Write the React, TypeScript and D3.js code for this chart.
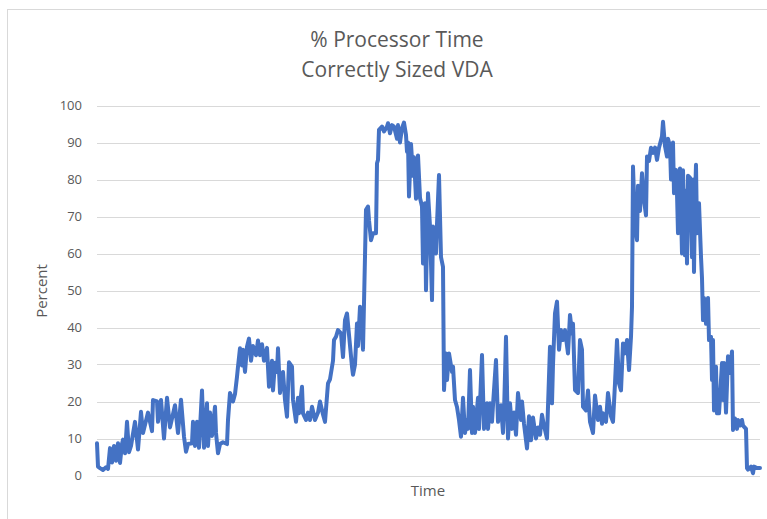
import * as d3 from "d3";
import { useEffect, useRef } from "react";

const width = 767;
const height = 519;
const margin = { top: 105.5, right: 7, bottom: 43.5, left: 97 };

const titleLines = ["% Processor Time", "Correctly Sized VDA"];
const yTicks = [0, 10, 20, 30, 40, 50, 60, 70, 80, 90, 100];

// sample time (minutes from start) and % processor time
const minutes = [
  0, 1, 3, 6, 9, 11, 13, 15, 17, 19, 21, 23, 25, 26, 28, 30, 32, 34, 38, 41,
  44, 46, 51, 55, 56, 60, 61, 64, 67, 70, 73, 78, 81, 84, 87, 89, 91, 95, 96, 98,
  100, 102, 105, 107, 110, 111, 113, 115, 118, 119, 121, 123, 126, 130, 131, 133, 136, 138, 140, 141,
  143, 145, 146, 148, 150, 152, 154, 156, 159, 161, 163, 165, 167, 170, 172, 175, 176, 178, 180, 181,
  183, 186, 188, 190, 192, 195, 196, 199, 201, 202, 205, 206, 209, 211, 213, 215, 218, 221, 223, 226,
  228, 231, 233, 236, 237, 239, 241, 244, 246, 248, 250, 252, 255, 256, 258, 260, 261, 263, 265, 266,
  269, 271, 272, 274, 276, 279, 280, 281, 282, 285, 287, 290, 291, 293, 295, 297, 300, 301, 303, 305,
  307, 309, 310, 311, 312, 314, 316, 317, 319, 321, 323, 325, 326, 328, 329, 331, 333, 335, 336, 339,
  340, 342, 344, 346, 347, 349, 350, 352, 355, 356, 358, 360, 362, 364, 366, 368, 370, 371, 373, 375,
  376, 378, 381, 382, 385, 387, 390, 391, 393, 395, 396, 399, 401, 404, 406, 407, 409, 411, 413, 415,
  417, 419, 421, 424, 425, 427, 430, 432, 434, 436, 439, 441, 443, 445, 447, 450, 451, 453, 455, 456,
  458, 460, 462, 464, 466, 468, 471, 473, 475, 476, 478, 481, 483, 485, 486, 489, 491, 493, 496, 498,
  501, 503, 505, 506, 509, 511, 514, 516, 518, 520, 522, 524, 526, 528, 530, 532, 534, 535, 536, 538,
  540, 541, 543, 545, 547, 549, 550, 552, 554, 556, 558, 560, 562, 565, 566, 568, 570, 571, 573, 574,
  576, 577, 579, 580, 581, 583, 585, 586, 588, 589, 590, 591, 593, 595, 596, 597, 598, 599, 600, 602,
  604, 605, 606, 607, 609, 611, 612, 614, 615, 616, 617, 619, 620, 622, 625, 626, 627, 629, 631, 633,
  635, 636, 638, 640, 641, 643, 645, 646, 649, 650, 651, 654, 656, 657, 660, 663,
];

const percent = [
  8.7, 2.4, 2, 1.5, 2.2, 1.8, 7.4, 3.5, 8, 4, 8.7, 3.4, 8.5, 9.7, 6, 14.5, 6.3, 8, 14.5, 7,
  17.2, 11.5, 17, 12, 20.4, 20, 14.5, 20.4, 10, 21, 13, 19, 11.5, 20.5, 10.5, 6.4, 8.5, 8.7, 14.5, 8,
  14.5, 7.5, 23, 7.5, 19.5, 8, 17, 10.7, 18.6, 11.5, 6, 8.5, 9, 8.5, 15, 22.3, 20, 22, 26.7, 29.4,
  34.4, 29.7, 34, 28, 34.8, 37, 31, 35, 32.5, 36.5, 32.5, 35.5, 31, 34.5, 24, 31, 23, 30.5, 28, 34.4,
  22.3, 28, 20.4, 15.9, 30.6, 29.4, 20.5, 14.5, 21, 16.8, 24, 16.8, 15, 17, 15, 18.6, 15, 17, 20, 16.5,
  14.5, 24.9, 26, 31, 36.6, 37.5, 39.3, 38.4, 32, 42, 43.8, 38, 29.4, 27.2, 30, 41.1, 35, 45.6, 38.5, 34,
  71.8, 72.7, 69, 63.6, 65.5, 65.5, 84.4, 85.3, 93.4, 94.3, 93, 94.3, 95.2, 92.5, 94.7, 94.3, 91, 94.7, 90, 93.9,
  95.4, 92, 87.5, 90, 75.4, 89.6, 81, 86, 74.8, 86.5, 75, 72.7, 57.3, 73.6, 50.1, 76.3, 67.3, 47.4, 67.3, 60,
  68, 81.2, 59, 56.4, 23.1, 33, 25.8, 33, 28, 29.4, 20.4, 18.5, 15, 10.5, 21, 11.5, 15, 12.6, 28.5, 11.5,
  18.6, 11.5, 21, 12.6, 32.6, 12.6, 19.5, 12.6, 19.5, 14.5, 19, 31.2, 14.5, 19, 11.5, 16.8, 37.5, 10, 19.5, 12.6,
  17, 11, 22.3, 15, 20, 14, 7.3, 16, 9.5, 15.7, 10, 13, 11, 16.4, 13.5, 10, 18.6, 34.8, 19.5, 30,
  43.8, 47, 34, 39.3, 36.6, 39.3, 33, 43.4, 38.4, 41, 23.1, 22.3, 36.6, 34, 18.6, 17.6, 23, 14.5, 11.5, 21.6,
  15, 18.6, 14, 16.8, 14.5, 22.3, 16, 14.5, 24.9, 36.6, 24.9, 23, 35.7, 33, 36.6, 28.5, 37.5, 45.6, 83.5, 67.3,
  63.6, 78.3, 71.5, 81.7, 74.5, 70.3, 86.2, 85, 88.6, 87.2, 88.6, 85.3, 88.6, 91.7, 95.6, 89, 86.2, 91, 89, 80,
  90, 76.3, 82.6, 76.3, 65.5, 83, 60, 82.5, 59.5, 77, 57.3, 81, 80.5, 59, 80, 55, 74.8, 84, 65.5, 73.6,
  59.1, 53.3, 42, 48, 41, 48, 36.6, 37.5, 25.8, 36.6, 17.6, 29.4, 16.8, 16.8, 30.4, 20.4, 30.4, 17, 32.2, 27.7,
  33.5, 12.3, 15.4, 12.6, 15, 13.5, 15, 13.5, 12.6, 2, 1.6, 2.4, 0.6, 2.4, 2, 2,
];

const textColor = "#595959";
const fontFamily = "'Open Sans', 'Noto Sans', sans-serif";

export default function App() {
  const svgRef = useRef<SVGSVGElement | null>(null);

  useEffect(() => {
    if (!svgRef.current) return;
    drawChart(svgRef.current);
  }, []);

  return (
    <div style={{ position: "absolute", left: 0, top: 0 }}>
      <svg ref={svgRef} width={width} height={height} style={{ display: "block" }} />
    </div>
  );
}

function drawChart(svgElement: SVGSVGElement) {
  const svg = d3.select(svgElement);
  svg.selectAll("*").remove();

  const plotRight = width - margin.right;
  const plotBottom = height - margin.bottom;

  const data = minutes.map((t, i) => ({ t, v: percent[i] }));

  const x = d3
    .scaleLinear()
    .domain([0, 663])
    .range([margin.left, 760]);
  const y = d3.scaleLinear().domain([0, 100]).range([plotBottom, margin.top]);

  svg
    .append("rect")
    .attr("width", width)
    .attr("height", height)
    .attr("fill", "#ffffff");

  // chart area border, runs off the right and bottom of the picture
  svg
    .append("rect")
    .attr("x", 7.5)
    .attr("y", 9.5)
    .attr("width", width + 10)
    .attr("height", height + 10)
    .attr("fill", "none")
    .attr("stroke", "#d9d9d9");

  svg
    .append("g")
    .selectAll("text")
    .data(titleLines)
    .join("text")
    .attr("x", 397)
    .attr("y", (_, i) => 47 + i * 30)
    .attr("text-anchor", "middle")
    .attr("fill", textColor)
    .style("font-family", fontFamily)
    .style("font-size", "21px")
    .text((d) => d);

  svg
    .append("g")
    .selectAll("line")
    .data(yTicks)
    .join("line")
    .attr("x1", margin.left)
    .attr("x2", plotRight)
    .attr("y1", (d) => Math.round(y(d)) + 0.5)
    .attr("y2", (d) => Math.round(y(d)) + 0.5)
    .attr("stroke", "#d9d9d9")
    .attr("stroke-width", 1);

  svg
    .append("g")
    .selectAll("text")
    .data(yTicks)
    .join("text")
    .attr("x", 82)
    .attr("y", (d) => y(d) + 4.5)
    .attr("text-anchor", "end")
    .attr("fill", textColor)
    .style("font-family", fontFamily)
    .style("font-size", "13px")
    .text((d) => d);

  svg
    .append("text")
    .attr("transform", `translate(47, 291) rotate(-90)`)
    .attr("text-anchor", "middle")
    .attr("fill", textColor)
    .style("font-family", fontFamily)
    .style("font-size", "15px")
    .text("Percent");

  svg
    .append("text")
    .attr("x", 428)
    .attr("y", 496)
    .attr("text-anchor", "middle")
    .attr("fill", textColor)
    .style("font-family", fontFamily)
    .style("font-size", "15px")
    .text("Time");

  const line = d3
    .line<{ t: number; v: number }>()
    .x((d) => x(d.t))
    .y((d) => y(d.v));

  svg
    .append("path")
    .datum(data)
    .attr("d", line)
    .attr("fill", "none")
    .attr("stroke", "#4472c4")
    .attr("stroke-width", 4)
    .attr("stroke-linejoin", "round")
    .attr("stroke-linecap", "round");
}
